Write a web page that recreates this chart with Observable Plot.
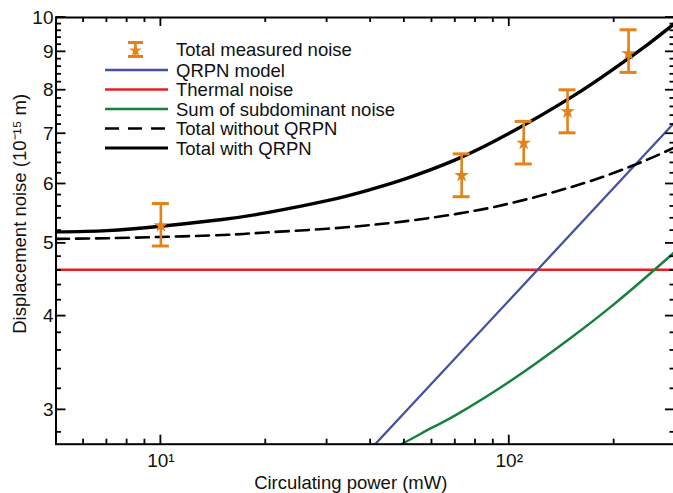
<!DOCTYPE html>
<html><head><meta charset="utf-8">
<script src="https://cdn.jsdelivr.net/npm/d3@7"></script>
<script src="https://cdn.jsdelivr.net/npm/@observablehq/plot@0.6"></script>
<style>
html,body{margin:0;padding:0;background:#fff;}
#wrap{position:relative;width:673px;height:493px;overflow:hidden;font-family:"Liberation Sans",Arial,Helvetica,sans-serif;}
#overlay{position:absolute;left:0;top:0;}
</style></head><body>
<div id="wrap"></div>
<script>
// ---- data ----
const totalPower   = [5, 7, 10, 15, 20, 30, 40, 50, 70, 100, 150, 200, 250, 300];
const withoutQRPN  = [5.07, 5.08, 5.10, 5.13, 5.17, 5.23, 5.29, 5.35, 5.47, 5.65, 5.94, 6.21, 6.47, 6.72];
const withQRPN     = [5.18, 5.20, 5.27, 5.38, 5.49, 5.70, 5.90, 6.09, 6.46, 7.01, 7.82, 8.55, 9.21, 9.84];
const qrpnPower    = [40, 100, 300];
const qrpnNoise    = [2.66, 4.20, 7.27];
const thermalPower = [5, 300];
const thermalNoise = [4.61, 4.61];
const subPower     = [45, 49, 60, 70, 100, 150, 200, 250, 300];
const subNoise     = [2.66, 2.70, 2.84, 2.95, 3.27, 3.74, 4.15, 4.53, 4.88];
const measPower    = [10, 73, 110, 147, 220];
const measNoise    = [5.28, 6.16, 6.80, 7.49, 8.95];
const measLow      = [4.96, 5.77, 6.38, 7.02, 8.45];
const measHigh     = [5.65, 6.58, 7.27, 8.01, 9.63];
const xMajor = [10, 100];
const xMinor = [6, 7, 8, 9, 20, 30, 40, 50, 60, 70, 80, 90, 200];
const xTickLabels = ["10¹", "10²"];
const yMajor = [3, 4, 5, 6, 7, 8, 9, 10];
const yMinor = [2.8, 3.2, 3.4, 3.6, 3.8, 4.2, 4.4, 4.6, 4.8, 5.2, 5.4, 5.6, 5.8, 6.2, 6.4, 6.6, 6.8, 7.2, 7.4, 7.6, 7.8, 8.2, 8.4, 8.6, 8.8, 9.2, 9.4, 9.6, 9.8];
const legendLabels = ["Total measured noise", "QRPN model", "Thermal noise", "Sum of subdominant noise", "Total without QRPN", "Total with QRPN"];
const xTitle = "Circulating power (mW)";
const yTitle = "Displacement noise (10⁻¹⁵ m)";

// ---- styling ----
const orange = "#e3821a", blue = "#4351a1", red = "#ec1c24", green = "#16803c";
const font = '"Liberation Sans", Arial, Helvetica, sans-serif';

const totals = totalPower.map((p, i) => ({p, wo: withoutQRPN[i], w: withQRPN[i]}));
const qrpn = qrpnPower.map((p, i) => ({p, v: qrpnNoise[i]}));
const thermal = thermalPower.map((p, i) => ({p, v: thermalNoise[i]}));
const sub = subPower.map((p, i) => ({p, v: subNoise[i]}));
const meas = measPower.map((p, i) => ({p, v: measNoise[i], lo: measLow[i], hi: measHigh[i]}));

const xDom = [5, 300], yDom = [2.7, 10];
const frameTop = 17, frameBottom = 443.7, frameLeft = 55.5, frameRight = 675;
const xPx = (frameRight - frameLeft) / Math.log10(xDom[1] / xDom[0]);
const capF = Math.pow(10, 8.5 / xPx);

const chart = Plot.plot({
  width: 673, height: 493,
  marginTop: frameTop, marginBottom: 493 - frameBottom, marginLeft: frameLeft, marginRight: 673 - frameRight,
  style: {fontFamily: font, fontSize: "19px", color: "#111", background: "white"},
  x: {type: "log", domain: xDom},
  y: {type: "log", domain: yDom},
  marks: [
    Plot.line(thermal, {x: "p", y: "v", stroke: red, strokeWidth: 2.5, clip: true}),
    Plot.line(qrpn, {x: "p", y: "v", stroke: blue, strokeWidth: 2.3, clip: true}),
    Plot.line(sub, {x: "p", y: "v", stroke: green, strokeWidth: 2.5, curve: "natural", clip: true}),
    Plot.line(totals, {x: "p", y: "wo", stroke: "black", strokeWidth: 2.6, strokeDasharray: "13,7", curve: "natural", clip: true}),
    Plot.line(totals, {x: "p", y: "w", stroke: "black", strokeWidth: 3.4, curve: "natural", clip: true}),
    Plot.ruleX(meas, {x: "p", y1: "lo", y2: "hi", stroke: orange, strokeWidth: 2.6}),
    Plot.ruleY(meas, {y: "lo", x1: d => d.p / capF, x2: d => d.p * capF, stroke: orange, strokeWidth: 3}),
    Plot.ruleY(meas, {y: "hi", x1: d => d.p / capF, x2: d => d.p * capF, stroke: orange, strokeWidth: 3}),
    Plot.dot(meas, {x: "p", y: "v", symbol: "star", r: 4.6, fill: orange, stroke: null}),
    Plot.frame({stroke: "black", strokeWidth: 2}),
    Plot.axisX(xMajor, {tickSize: 0, tickPadding: 9, fontSize: 19, label: null,
      tickFormat: d => xTickLabels[xMajor.indexOf(d)]}),
    Plot.axisY(yMajor, {tickSize: 0, tickPadding: 2.5, fontSize: 19, label: null, tickFormat: d => String(d)}),
    Plot.text([xTitle], {text: d => d, frameAnchor: "bottom", textAnchor: "middle", lineAnchor: "middle",
      dx: -15, dy: 38.4, fontSize: 18.5, fill: "#111"}),
    Plot.text([yTitle], {text: d => d, frameAnchor: "left", textAnchor: "middle", lineAnchor: "middle",
      rotate: -90, dx: -35.5, dy: -17, fontSize: 18.5, fill: "#111"})
  ]
});
document.getElementById("wrap").appendChild(chart);

// ---- overlay: inward ticks on all four sides, and the legend ----
const xs = d3.scaleLog().domain(xDom).range([frameLeft, frameRight]);
const ys = d3.scaleLog().domain(yDom).range([frameBottom, frameTop]);
const ov = d3.select("#wrap").append("svg").attr("id", "overlay")
  .attr("width", 673).attr("height", 493).attr("viewBox", "0 0 673 493")
  .style("pointer-events", "none");
const tw = 1.8;
const vtick = (X, y0, len) => ov.append("rect").attr("x", X - tw / 2).attr("y", len > 0 ? y0 : y0 + len)
  .attr("width", tw).attr("height", Math.abs(len)).attr("fill", "#000");
const htick = (x0, Y, len) => ov.append("rect").attr("x", len > 0 ? x0 : x0 + len).attr("y", Y - tw / 2)
  .attr("width", Math.abs(len)).attr("height", tw).attr("fill", "#000");
xMajor.forEach(v => { const X = xs(v); vtick(X, frameBottom, -9); vtick(X, frameTop, 9); });
xMinor.forEach(v => { const X = xs(v); vtick(X, frameBottom, -5); vtick(X, frameTop, 5); });
yMajor.forEach(v => { const Y = ys(v); htick(frameLeft, Y, 10); htick(frameRight, Y, -10); });
yMinor.forEach(v => { const Y = ys(v); htick(frameLeft, Y, 5.5); htick(frameRight, Y, -5.5); });

const rowY = [49.5, 70, 89.5, 109, 128.5, 148];
const styles = [null,
  {stroke: blue, w: 2.4, dash: null},
  {stroke: red, w: 2.6, dash: null},
  {stroke: green, w: 2.6, dash: null},
  {stroke: "black", w: 2.6, dash: "14,9"},
  {stroke: "black", w: 3, dash: null}];
legendLabels.forEach((label, i) => {
  const y = rowY[i];
  if (i === 0) {
    const cx = 135.5;
    ov.append("line").attr("x1", cx).attr("x2", cx).attr("y1", y - 7).attr("y2", y + 7)
      .attr("stroke", orange).attr("stroke-width", 2.6);
    [y - 7, y + 7].forEach(yy => ov.append("line").attr("x1", cx - 7.5).attr("x2", cx + 7.5)
      .attr("y1", yy).attr("y2", yy).attr("stroke", orange).attr("stroke-width", 3));
    ov.append("path").attr("d", d3.symbol(d3.symbolStar, 48)())
      .attr("transform", `translate(${cx},${y + 1})`).attr("fill", orange);
  } else {
    const s = styles[i];
    ov.append("line").attr("x1", 105).attr("x2", 168).attr("y1", y).attr("y2", y)
      .attr("stroke", s.stroke).attr("stroke-width", s.w)
      .attr("stroke-dasharray", s.dash);
  }
  ov.append("text").attr("x", 176).attr("y", y + 6.6).text(label)
    .attr("font-family", font).attr("font-size", 18.5).attr("fill", "#111");
});
</script>
</body></html>
